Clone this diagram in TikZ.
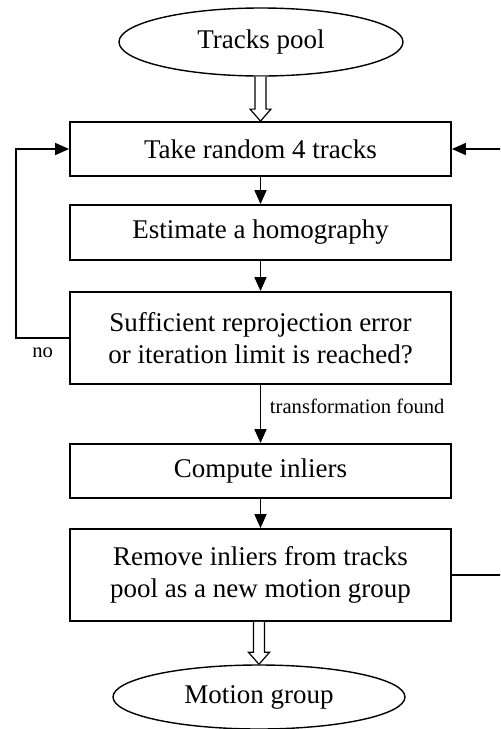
\documentclass[tikz,border=0pt]{standalone}
\usepackage{fontspec}
\setmainfont{Liberation Serif}
\usetikzlibrary{shapes.geometric, arrows.meta, calc}

\newcommand{\mainsize}{\fontsize{13.5}{16}\selectfont}
\newcommand{\notesize}{\fontsize{10.3}{12}\selectfont}
% hollow block arrow from the south of #1 down to the north of #2
\newcommand{\hollowarrow}[2]{%
  \draw[line width=0.6pt, fill=white] let \p1=(#1.south), \p2=(#2.north) in
    (\x2-2.75pt,\y1) -- (\x2-2.75pt,\y2+6pt) -- (\x2-5.25pt,\y2+6pt) -- (\x2,\y2)
    -- (\x2+5.25pt,\y2+6pt) -- (\x2+2.75pt,\y2+6pt) -- (\x2+2.75pt,\y1);}

\tikzset{
  stepbox/.style={draw, line width=0.9pt, minimum width=190.5pt, minimum height=27pt,
    inner sep=0pt, align=center, font=\mainsize},
  tallbox/.style={stepbox, minimum height=46pt},
  terminal/.style={draw, ellipse, line width=0.7pt, minimum width=142pt, minimum height=34pt,
    inner sep=0pt, font=\mainsize},
  flow/.style={-{Triangle[length=7pt,width=6pt]}, line width=0.8pt},
  note/.style={font=\notesize},
}

\begin{document}
\begin{tikzpicture}[x=0.5pt, y=-0.5pt]
  \clip (0,0) rectangle (500,729);

  \node[terminal] (pool) at (261,42) {Tracks pool};
  \node[stepbox] (take) at (260.5,149) {Take random 4 tracks};
  \node[stepbox, minimum height=27.5pt] (estimate) at (260.5,232.5) {Estimate a homography};
  \node[tallbox] (check) at (260.5,338) {Sufficient reprojection error\\or iteration limit is reached?};
  \node[stepbox] (inliers) at (260.5,471) {Compute inliers};
  \node[tallbox] (remove) at (260.5,575) {Remove inliers from tracks\\pool as a new motion group};
  \node[terminal, minimum width=146pt, minimum height=32pt] (group) at (259,697) {Motion group};

  \coordinate (rloop) at (506,575);

  \hollowarrow{pool}{take}
  \hollowarrow{remove}{group}

  \draw[flow] (take) -- (estimate);
  \draw[flow] (estimate) -- (check);
  \draw[flow] (check) -- node[note, pos=0.37, right=1pt] {transformation found} (inliers);
  \draw[flow] (inliers) -- (remove);

  % loops back to the sampling step
  \draw[flow] (check.west) -- node[note, below=1pt] {no} ++(-53,0) |- (take.west);
  \draw[flow] (remove.east) -- (rloop) |- (take.east);
\end{tikzpicture}
\end{document}
